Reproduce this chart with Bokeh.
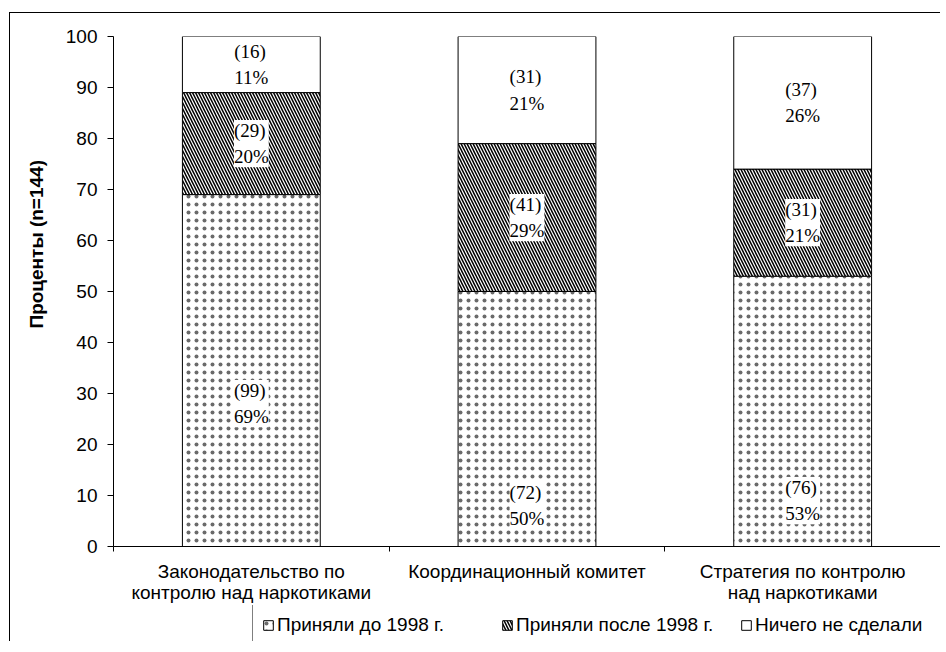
import numpy as np
from bokeh.plotting import figure
from bokeh.layouts import column
from bokeh.models import (ColumnDataSource, Range1d, FixedTicker, Legend,
                          LegendItem, LabelSet, Title)
from bokeh.embed import file_html
from bokeh.resources import INLINE

# ---- data ----
categories = ["Законодательство по\nконтролю над наркотиками",
              "Координационный комитет",
              "Стратегия по контролю\nнад наркотиками"]
series_names = ["Приняли до 1998 г.", "Приняли после 1998 г.", "Ничего не сделали"]
pct_before = [69, 50, 53]
pct_after = [20, 29, 21]
pct_nothing = [11, 21, 26]
n_before = [99, 72, 76]
n_after = [29, 41, 31]
n_nothing = [16, 31, 37]
before_label_y = [28, 8, 9]   # labels of the lowest segment were moved in the original
y_ticks = [0, 10, 20, 30, 40, 50, 60, 70, 80, 90, 100]
y_title = "Проценты (n=144)"

# ---- derived ----
x = np.arange(len(categories)) + 0.5
b0 = np.zeros(len(categories))
t0 = b0 + np.array(pct_before)
t1 = t0 + np.array(pct_after)
t2 = t1 + np.array(pct_nothing)
segments = [(b0, t0), (t0, t1), (t1, t2)]

FS = "19px"

styles = [
    dict(hatch_pattern="dot", hatch_scale=8, hatch_weight=0.1, hatch_color="#6a6a6a"),
    dict(hatch_pattern="left_diagonal_line", hatch_scale=6, hatch_weight=1.5,
         hatch_color="black"),
    dict(),
]
common = dict(width=0.5, line_color="black", line_width=1, fill_color="white")

p = figure(width=940, height=605, x_range=Range1d(0, len(categories)),
           y_range=Range1d(0, 100), output_backend="svg", toolbar_location=None,
           min_border_left=113, min_border_right=0, min_border_top=36,
           min_border_bottom=52)
p.outline_line_color = None
p.grid.visible = False
p.background_fill_color = "white"
p.border_fill_alpha = 0.0

for (bot, top), st in zip(segments, styles):
    p.vbar(x=x, bottom=bot, top=top, **st, **common)

labels = dict(
    x=np.concatenate([x, x, x]),
    y=np.concatenate([np.array(before_label_y, dtype=float), (t0 + t1) / 2, (t1 + t2) / 2]),
    text=[f"({n})\n{v}%" for n, v in zip(n_before + n_after + n_nothing,
                                         pct_before + pct_after + pct_nothing)],
)
ls = LabelSet(x="x", y="y", text="text", source=ColumnDataSource(labels),
              text_font="Liberation Serif", text_font_size=FS,
              text_align="center", text_baseline="middle",
              text_line_height=1.25, text_color="black",
              background_fill_color="white", background_fill_alpha=1.0)
p.add_layout(ls)

# y axis
ya = p.yaxis[0]
ya.ticker = FixedTicker(ticks=y_ticks, minor_ticks=[])
ya.major_label_text_font = "Liberation Sans"
ya.major_label_text_font_size = FS
ya.major_label_text_color = "black"
ya.major_label_standoff = 10
ya.major_tick_out = 6
ya.major_tick_in = 0
ya.minor_tick_line_color = None
ya.axis_line_color = "black"
ya.major_tick_line_color = "black"

p.add_layout(Title(text=y_title, align="left", offset=218, standoff=32,
                   text_font="Liberation Sans", text_font_style="bold",
                   text_font_size=FS, text_color="black"), "left")

# x axis
xa = p.xaxis[0]
xa.ticker = FixedTicker(ticks=list(x), minor_ticks=list(np.arange(len(categories) + 1)))
xa.major_label_overrides = {float(xi): c for xi, c in zip(x, categories)}
xa.major_label_text_font = "Liberation Sans"
xa.major_label_text_font_size = FS
xa.major_label_text_color = "black"
xa.major_label_text_line_height = 1.0
xa.major_label_standoff = 9
xa.major_tick_out = 0
xa.major_tick_in = 0
xa.minor_tick_out = 5
xa.minor_tick_in = 0
xa.minor_tick_line_color = "black"
xa.axis_line_color = "black"

# legend strip below the chart (its frame is aligned with the chart's frame)
p2 = figure(width=940, height=36, x_range=Range1d(0, len(categories)),
            y_range=Range1d(0, 100),
            output_backend="svg", toolbar_location=None,
            x_axis_type=None, y_axis_type=None,
            min_border_left=0, min_border_right=0, min_border_top=0,
            min_border_bottom=0)
p2.outline_line_color = None
p2.grid.visible = False
p2.background_fill_alpha = 0.0
p2.border_fill_alpha = 0.0
lr = [p2.vbar(x=x, bottom=bot, top=top, visible=False, **st, **common)
      for (bot, top), st in zip(segments, styles)]

legend = Legend(items=[LegendItem(label=name, renderers=[r])
                       for name, r in zip(series_names, lr)],
                orientation="horizontal", location=(139, -5),
                glyph_width=12, glyph_height=12, label_standoff=3,
                label_width=222, spacing=2, padding=9, margin=0,
                label_text_font="Liberation Sans", label_text_font_size=FS,
                label_text_color="black", border_line_color="black",
                border_line_width=1, background_fill_color="white",
                background_fill_alpha=1.0, inactive_fill_alpha=0.0)
p2.add_layout(legend)

page = column(p, p2, spacing=0, styles={
    "background-color": "white",
    "background-image": "linear-gradient(#000,#000), linear-gradient(#000,#000)",
    "background-size": "1px 100%, 100% 1px",
    "background-position": "9px 12px, 9px 12px",
    "background-repeat": "no-repeat",
})

open("out.html", "w").write(file_html(page, INLINE))
